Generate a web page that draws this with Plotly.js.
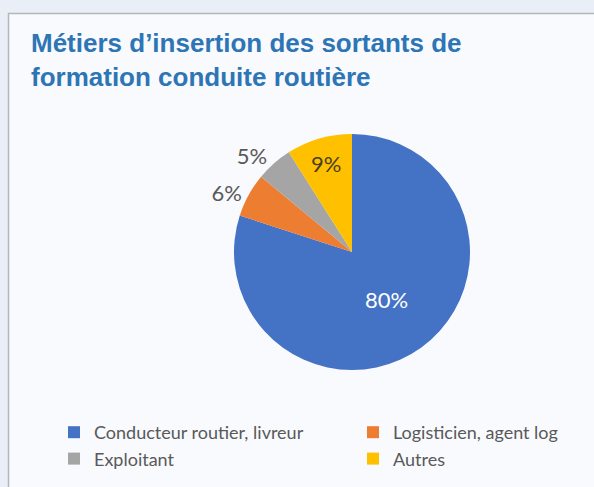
<!DOCTYPE html>
<html><head><meta charset="utf-8">
<script src="https://cdn.plot.ly/plotly-3.0.1.min.js"></script>
<style>html,body{margin:0;padding:0;background:#eaeff7}</style>
</head><body>
<div id="chart" style="width:594px;height:487px"></div>
<script>
var categories = ['Conducteur routier, livreur', 'Logisticien, agent log', 'Exploitant', 'Autres'];
var values = [80, 6, 5, 9];
var colors = ['#4472c4', '#ed7d31', '#a5a5a5', '#ffc000'];
var textColors = ['#ffffff', '#595959', '#595959', '#4a4020'];
var textPositions = ['inside', 'outside', 'outside', 'inside'];

var trace = {
  type: 'pie',
  labels: categories,
  values: values,
  sort: false,
  direction: 'clockwise',
  rotation: 0,
  marker: {colors: colors, line: {color: '#ffffff', width: 0}},
  textinfo: 'percent',
  texttemplate: '%{percent:.0%}',
  textposition: textPositions,
  insidetextorientation: 'horizontal',
  textfont: {family: 'Lato, sans-serif', size: 22, color: textColors},
  hoverinfo: 'label+percent',
  domain: {x: [352/594 - 118/594, 352/594 + 118/594], y: [(487-252-118)/487, (487-252+118)/487]},
  showlegend: true
};

var layout = {
  width: 594, height: 487,
  margin: {l: 0, r: 0, t: 0, b: 0, autoexpand: false},
  paper_bgcolor: '#eaeff7',
  title: {
    text: 'Métiers d’insertion des sortants de<br>formation conduite routière',
    x: 31/594, xanchor: 'left', xref: 'paper',
    y: 1 - 52/487, yanchor: 'top', yref: 'container',
    font: {family: 'Liberation Sans, Arial, sans-serif', size: 26, color: '#2e75b6', weight: 'bold'}
  },
  shapes: [{
    type: 'rect', xref: 'paper', yref: 'paper', layer: 'below',
    x0: 8.5/594, x1: 1.02, y0: -0.02, y1: 1 - 13.5/487,
    fillcolor: '#f8fafd', line: {color: '#b3b7bc', width: 1.5}
  }],
  legend: {
    orientation: 'h',
    x: 54/594, xanchor: 'left',
    y: 1 - 414/487, yanchor: 'top',
    entrywidth: 254, entrywidthmode: 'pixels',
    font: {family: 'Lato, sans-serif', size: 18, color: '#595959'},
    bgcolor: 'rgba(0,0,0,0)'
  },
  showlegend: true
};

Plotly.newPlot('chart', [trace], layout, {displayModeBar: false, staticPlot: true});
</script>
</body></html>
